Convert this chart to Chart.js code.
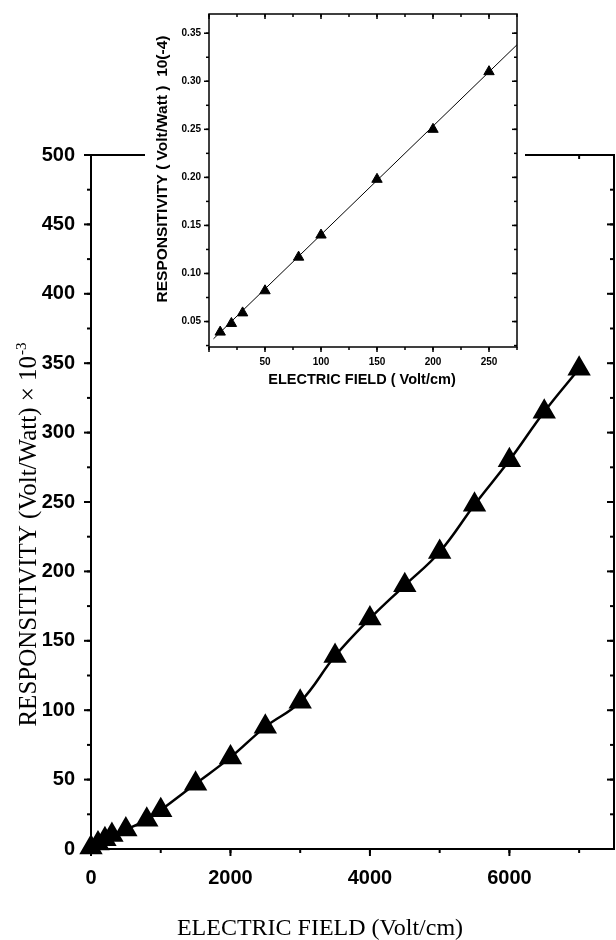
<!DOCTYPE html>
<html>
<head>
<meta charset="utf-8">
<script src="https://cdn.jsdelivr.net/npm/chart.js@4"></script>
<style>
  body { margin: 0; background: #fff; }
  #wrap { position: relative; width: 616px; height: 940px; }
  #main { position: absolute; left: 0; top: 0; }
  #inset { position: absolute; left: 145px; top: 0; background: #fff; }
</style>
</head>
<body>
<div id="wrap">
  <canvas id="main" width="616" height="940"></canvas>
  <canvas id="inset" width="380" height="398"></canvas>
</div>
<script>
// main plot: responsivity (x10^-3 V/W) against electric field (V/cm)
let mainField = [0, 100, 200, 300, 500, 800, 1000, 1500, 2000, 2500, 3000, 3500, 4000, 4500, 5000, 5500, 6000, 6500, 7000];
let mainResp = [1, 4, 7, 10, 14, 21, 28, 47, 66, 88, 106, 139, 166, 190, 214, 248, 280, 315, 346];

// inset: low field part, responsivity in 10(-4)
let insetField = [10, 20, 30, 50, 80, 100, 150, 200, 250];
let insetResp = [0.039, 0.048, 0.059, 0.082, 0.117, 0.14, 0.198, 0.25, 0.31];
// straight fit line as drawn in the inset (end points)
let insetFitField = [4, 275];
let insetFitResp = [0.032, 0.338];

// axis ranges and tick steps
let mainX = {min: 0, max: 7500, major: 2000, minor: 1000};
let mainY = {min: 0, max: 500, major: 50, minor: 25};
let insetX = {min: 0, max: 275, major: 50, minor: 25};
let insetY = {min: 0.0235, max: 0.37, major: 0.05, minor: 0.025};

// tick values from a step, inside the axis range
function stepTicks(r, step) {
    let out = [];
    for (let k = Math.ceil(r.min / step - 1e-6); k * step <= r.max + 1e-9; k++) out.push(k * step);
    return out;
}

// draws the boxed frame with ticks: out on left/bottom, in on right/top
const frameTicks = {
    id: 'frameTicks',
    beforeDatasetsDraw(chart, args, o) {
        const ctx = chart.ctx;
        const a = chart.chartArea;
        const x = chart.scales.x, y = chart.scales.y;
        ctx.save();
        ctx.strokeStyle = '#000';
        ctx.lineWidth = o.width;
        ctx.strokeRect(a.left, a.top, a.right - a.left, a.bottom - a.top);
        const line = (x1, y1, x2, y2) => {
            ctx.beginPath();
            ctx.moveTo(x1, y1);
            ctx.lineTo(x2, y2);
            ctx.stroke();
        };
        [[o.x.minor, o.minorLen], [o.x.major, o.majorLen]].forEach(([step, len]) => {
            stepTicks(o.x, step).forEach(v => {
                const px = x.getPixelForValue(v);
                line(px, a.bottom, px, a.bottom + len);
                line(px, a.top, px, a.top + len);
            });
        });
        [[o.y.minor, o.minorLen], [o.y.major, o.majorLen]].forEach(([step, len]) => {
            stepTicks(o.y, step).forEach(v => {
                const py = y.getPixelForValue(v);
                line(a.left - len, py, a.left, py);
                line(a.right - len, py, a.right, py);
            });
        });
        ctx.restore();
    },
    afterDraw(chart, args, o) {
        const ctx = chart.ctx;
        ctx.save();
        ctx.fillStyle = '#000';
        ctx.textBaseline = 'alphabetic';
        // x title
        ctx.font = o.font;
        ctx.textAlign = 'center';
        ctx.fillText(o.xTitle, o.xTitleAt[0], o.xTitleAt[1]);
        // y title, rotated, with optional superscript
        ctx.font = o.yFont || o.font;
        ctx.translate(o.yTitleAt[0], o.yTitleAt[1]);
        ctx.rotate(-Math.PI / 2);
        ctx.textAlign = 'left';
        let w1 = ctx.measureText(o.yTitle).width;
        let w2 = 0;
        if (o.ySup) {
            ctx.font = o.supFont;
            w2 = ctx.measureText(o.ySup).width;
            ctx.font = o.yFont || o.font;
        }
        let start = -(w1 + w2) / 2;
        ctx.fillText(o.yTitle, start, 0);
        if (o.ySup) {
            ctx.font = o.supFont;
            ctx.fillText(o.ySup, start + w1 + 1, -10);
        }
        ctx.restore();
    }
};

const bigTick = {family: 'Liberation Sans', size: 20, weight: 'bold'};
const smallTick = {family: 'Liberation Sans', size: 10, weight: 'bold'};

new Chart('main', {
    type: 'line',
    data: {
        datasets: [{
            data: mainField.map((f, i) => ({x: f, y: mainResp[i]})),
            borderColor: '#000',
            borderWidth: 2.5,
            tension: 0.4,
            pointStyle: 'triangle',
            pointRadius: 11,
            pointBackgroundColor: '#000',
            pointBorderColor: '#000',
            clip: false
        }]
    },
    options: {
        responsive: false,
        animation: false,
        devicePixelRatio: 1,
        layout: {autoPadding: false, padding: {top: 155, right: 2}},
        plugins: {
            legend: {display: false},
            tooltip: {enabled: false},
            frameTicks: {
                width: 2, majorLen: 7, minorLen: 4, x: mainX, y: mainY,
                font: '24px "Liberation Serif"', yFont: '25px "Liberation Serif"',
                supFont: '15px "Liberation Serif"',
                xTitle: 'ELECTRIC FIELD (Volt/cm)', xTitleAt: [320, 935],
                yTitle: 'RESPONSITIVITY (Volt/Watt) \u00d7 10', ySup: '-3', yTitleAt: [36, 535]
            }
        },
        scales: {
            x: {
                type: 'linear', min: mainX.min, max: mainX.max,
                afterFit: s => { s.height = 91; },
                afterBuildTicks: s => { s.ticks = stepTicks(mainX, mainX.major).map(v => ({value: v})); },
                grid: {display: false, drawTicks: false}, border: {display: false},
                ticks: {autoSkip: false, maxRotation: 0, padding: 17, color: '#000', font: bigTick,
                        callback: v => String(v)}
            },
            y: {
                min: mainY.min, max: mainY.max,
                afterFit: s => { s.width = 91; },
                grid: {display: false, drawTicks: false}, border: {display: false},
                ticks: {stepSize: mainY.major, autoSkip: false, padding: 16, color: '#000', font: bigTick}
            }
        }
    },
    plugins: [frameTicks]
});

new Chart('inset', {
    type: 'line',
    data: {
        datasets: [{
            data: insetFitField.map((f, i) => ({x: f, y: insetFitResp[i]})),
            borderColor: '#000',
            borderWidth: 1,
            pointRadius: 0
        }, {
            data: insetField.map((f, i) => ({x: f, y: insetResp[i]})),
            showLine: false,
            pointStyle: 'triangle',
            pointRadius: 6,
            pointBackgroundColor: '#000',
            pointBorderColor: '#000',
            clip: false
        }]
    },
    options: {
        responsive: false,
        animation: false,
        devicePixelRatio: 1,
        layout: {autoPadding: false, padding: {top: 12, right: 8}},
        plugins: {
            legend: {display: false},
            tooltip: {enabled: false},
            frameTicks: {
                width: 1.5, majorLen: 5, minorLen: 3, x: insetX, y: insetY,
                font: 'bold 14.5px "Liberation Sans"', yFont: 'bold 15.5px "Liberation Sans"',
                xTitle: 'ELECTRIC FIELD ( Volt/cm)', xTitleAt: [217, 384],
                yTitle: 'RESPONSITIVITY ( Volt/Watt )  10(-4)', yTitleAt: [22, 169]
            }
        },
        scales: {
            x: {
                type: 'linear', min: insetX.min, max: insetX.max,
                afterFit: s => { s.height = 51; },
                afterBuildTicks: s => { s.ticks = stepTicks(insetX, insetX.major).map(v => ({value: v})); },
                grid: {display: false, drawTicks: false}, border: {display: false},
                ticks: {autoSkip: false, maxRotation: 0, padding: 9, color: '#000', font: smallTick,
                        callback: v => v === 0 ? '' : String(v)}
            },
            y: {
                min: insetY.min, max: insetY.max,
                afterFit: s => { s.width = 64; },
                afterBuildTicks: s => { s.ticks = stepTicks(insetY, insetY.major).map(v => ({value: v})); },
                grid: {display: false, drawTicks: false}, border: {display: false},
                ticks: {autoSkip: false, padding: 8, color: '#000', font: smallTick,
                        callback: v => v.toFixed(2)}
            }
        }
    },
    plugins: [frameTicks]
});
</script>
</body>
</html>
